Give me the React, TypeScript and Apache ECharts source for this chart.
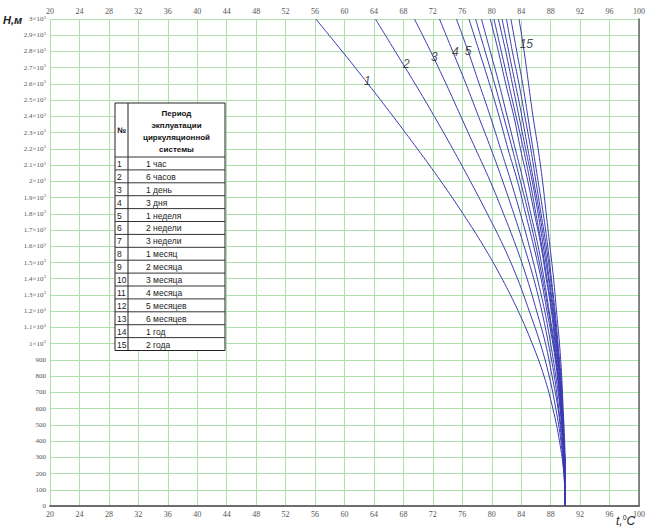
import React, { useEffect, useRef } from "react";
import * as echarts from "echarts";

// Depth levels (m) at which the temperatures are read
const H_LEVELS = [3000, 2800, 2600, 2400, 2200, 2000, 1800, 1600, 1400, 1200, 1000, 800, 600, 400, 200, 0];

// Temperature (°C) per curve at the depth levels above
const T01 = [56.1, 59.7, 63.2, 66.6, 69.9, 73.1, 76.1, 78.9, 81.4, 83.6, 85.5, 87.1, 88.3, 89.2, 89.8, 90.0];
const T02 = [64.2, 66.9, 69.6, 72.2, 74.7, 77.1, 79.4, 81.6, 83.5, 85.1, 86.6, 87.8, 88.7, 89.4, 89.8, 90.0];
const T03 = [69.5, 71.7, 73.8, 75.8, 77.8, 79.8, 81.6, 83.3, 84.8, 86.1, 87.3, 88.2, 89.0, 89.5, 89.9, 90.0];
const T04 = [72.9, 74.7, 76.5, 78.2, 79.9, 81.5, 83.0, 84.4, 85.7, 86.8, 87.7, 88.5, 89.1, 89.6, 89.9, 90.0];
const T05 = [75.2, 76.8, 78.3, 79.8, 81.2, 82.6, 83.9, 85.1, 86.2, 87.2, 88.0, 88.7, 89.3, 89.7, 89.9, 90.0];
const T06 = [76.9, 78.3, 79.7, 81.0, 82.2, 83.5, 84.6, 85.7, 86.7, 87.5, 88.3, 88.9, 89.3, 89.7, 89.9, 90.0];
const T07 = [77.8, 79.1, 80.4, 81.6, 82.8, 83.9, 85.0, 86.0, 86.9, 87.7, 88.4, 89.0, 89.4, 89.7, 89.9, 90.0];
const T08 = [78.6, 79.8, 81.0, 82.1, 83.2, 84.3, 85.3, 86.3, 87.1, 87.8, 88.5, 89.0, 89.4, 89.7, 89.9, 90.0];
const T09 = [79.8, 80.9, 81.9, 83.0, 83.9, 84.9, 85.8, 86.7, 87.4, 88.1, 88.6, 89.1, 89.5, 89.8, 89.9, 90.0];
const T10 = [80.3, 81.3, 82.3, 83.3, 84.3, 85.2, 86.0, 86.8, 87.5, 88.2, 88.7, 89.2, 89.5, 89.8, 89.9, 90.0];
const T11 = [80.9, 81.9, 82.8, 83.7, 84.6, 85.5, 86.3, 87.0, 87.7, 88.3, 88.8, 89.2, 89.5, 89.8, 89.9, 90.0];
const T12 = [81.4, 82.3, 83.2, 84.1, 84.9, 85.7, 86.5, 87.2, 87.8, 88.4, 88.9, 89.3, 89.6, 89.8, 89.9, 90.0];
const T13 = [82.0, 82.8, 83.7, 84.5, 85.3, 86.0, 86.7, 87.4, 88.0, 88.5, 88.9, 89.3, 89.6, 89.8, 90.0, 90.0];
const T14 = [82.6, 83.4, 84.2, 84.9, 85.6, 86.3, 87.0, 87.6, 88.1, 88.6, 89.0, 89.4, 89.6, 89.8, 90.0, 90.0];
const T15 = [83.7, 84.4, 85.0, 85.6, 86.3, 86.9, 87.4, 87.9, 88.4, 88.8, 89.2, 89.5, 89.7, 89.9, 90.0, 90.0];
const CURVES = [T01, T02, T03, T04, T05, T06, T07, T08, T09, T10, T11, T12, T13, T14, T15];

// Curve number labels (data coordinates)
const LABEL_TEXT = ["1", "2", "3", "4", "5", "15"];
const LABEL_T = [63.1, 68.4, 72.2, 75.05, 76.8, 84.7];
const LABEL_H = [2617, 2722, 2765, 2796, 2802, 2846];

// Legend table
const TABLE_NUM = ["1", "2", "3", "4", "5", "6", "7", "8", "9", "10", "11", "12", "13", "14", "15"];
const TABLE_PERIOD = [
  "1 час", "6 часов", "1 день", "3 дня", "1 неделя", "2 недели", "3 недели", "1 месяц",
  "2 месяца", "3 месяца", "4 месяца", "5 месяцев", "6 месяцев", "1 год", "2 года",
];
const TABLE_HEADER = ["Период", "экплуатации", "циркуляционной", "системы"];

const LINE_COLOR = "#3a3ab2";
const GRID_COLOR = "#aee0ae";
const AXIS_COLOR = "#666";
const LABEL_COLOR = "#555";
const SERIF = "'Liberation Serif', 'DejaVu Serif', serif";
const SANS = "'Liberation Sans', Arial, sans-serif";

function buildTable(): any[] {
  const x0 = 115, y0 = 103, w = 110, headH = 54, rowH = 12.9, colX = 128;
  const els: any[] = [];
  const totalH = headH + rowH * TABLE_NUM.length;
  els.push({ type: "rect", shape: { x: x0, y: y0, width: w, height: totalH }, style: { fill: "#fff", stroke: "#222", lineWidth: 1 }, z: 10 });
  els.push({ type: "line", shape: { x1: colX, y1: y0, x2: colX, y2: y0 + totalH }, style: { stroke: "#222", lineWidth: 1 }, z: 11 });
  for (let i = 0; i <= TABLE_NUM.length - 1; i++) {
    const y = y0 + headH + i * rowH;
    els.push({ type: "line", shape: { x1: x0, y1: y, x2: x0 + w, y2: y }, style: { stroke: "#333", lineWidth: 1 }, z: 11 });
  }
  els.push({ type: "text", x: (x0 + colX) / 2, y: y0 + headH / 2, style: { text: "№", font: `bold 8px ${SANS}`, fill: "#111", align: "center", verticalAlign: "middle" }, z: 12 });
  TABLE_HEADER.forEach((t, i) => {
    els.push({ type: "text", x: (colX + x0 + w) / 2, y: y0 + 10 + i * 12, style: { text: t, font: `bold 8px ${SANS}`, fill: "#111", align: "center", verticalAlign: "middle" }, z: 12 });
  });
  TABLE_NUM.forEach((n, i) => {
    const yc = y0 + headH + i * rowH + rowH / 2 + 0.5;
    els.push({ type: "text", x: x0 + 2, y: yc, style: { text: n, font: `8.5px ${SANS}`, fill: "#222", align: "left", verticalAlign: "middle" }, z: 12 });
    els.push({ type: "text", x: 146, y: yc, style: { text: TABLE_PERIOD[i], font: `8.5px ${SANS}`, fill: "#222", align: "left", verticalAlign: "middle" }, z: 12 });
  });
  return els;
}

export default function App() {
  const ref = useRef<HTMLDivElement>(null);
  useEffect(() => {
    if (!ref.current) return;
    const chart = echarts.init(ref.current, undefined, { renderer: "svg" });
    const xLabel = { fontSize: 8, fontFamily: SERIF, color: LABEL_COLOR };
    const option: any = {
      animation: false,
      backgroundColor: "#fff",
      grid: { left: 50, right: 8, top: 19, bottom: 24, containLabel: false },
      xAxis: [
        {
          type: "value", min: 20, max: 100, interval: 4, position: "bottom",
          axisLine: { show: true, lineStyle: { color: AXIS_COLOR, width: 1.5 } },
          axisTick: { show: false },
          axisLabel: { ...xLabel, margin: 4 },
          splitLine: { show: true, lineStyle: { color: GRID_COLOR, width: 1 } },
        },
        {
          type: "value", min: 20, max: 100, interval: 4, position: "top",
          axisLine: { show: true, lineStyle: { color: AXIS_COLOR, width: 1.5 } },
          axisTick: { show: false },
          axisLabel: { ...xLabel, margin: 4 },
          splitLine: { show: false },
        },
      ],
      yAxis: [
        {
          type: "value", min: 0, max: 3000, interval: 100, position: "left",
          axisLine: { show: false },
          axisTick: { show: false },
          axisLabel: {
            margin: 4,
            formatter: (v: number) =>
              v >= 1000 ? `{m|${+(v / 1000).toFixed(1)}×10}{s|3}` : `{m|${v}}`,
            rich: {
              m: { fontSize: 7, fontFamily: SERIF, color: LABEL_COLOR },
              s: { fontSize: 5, fontFamily: SERIF, color: LABEL_COLOR, verticalAlign: "top", padding: [0, 0, 4, 0] },
            },
          },
          splitLine: { show: true, lineStyle: { color: GRID_COLOR, width: 1 } },
        },
        {
          type: "value", min: 0, max: 3000, interval: 100, position: "right",
          axisLine: { show: true, lineStyle: { color: AXIS_COLOR, width: 1.5 } },
          axisTick: { show: false },
          axisLabel: { show: false },
          splitLine: { show: false },
        },
      ],
      series: [
        ...CURVES.map((t, i) => ({
          type: "line",
          name: String(i + 1),
          xAxisIndex: 0,
          yAxisIndex: 0,
          data: t.map((v, j) => [v, H_LEVELS[j]]),
          smooth: 0.4,
          symbol: "none",
          lineStyle: { color: LINE_COLOR, width: 1 },
          z: 3,
        })),
        {
          type: "scatter",
          xAxisIndex: 0,
          yAxisIndex: 0,
          symbolSize: 0,
          silent: true,
          data: LABEL_TEXT.map((s, i) => ({ value: [LABEL_T[i], LABEL_H[i]], name: s })),
          label: {
            show: true,
            position: "inside",
            formatter: (p: any) => p.name,
            fontSize: 12,
            fontStyle: "italic",
            fontFamily: SANS,
            color: "#222",
          },
          z: 5,
        },
      ],
      graphic: [
        {
          type: "text", left: 3, top: 14,
          style: { text: "H,м", font: `bold italic 11px ${SANS}`, fill: "#222" },
        },
        {
          type: "text", left: 616, top: 514,
          style: {
            text: "{i|t,}{s|0}{i|C}",
            rich: {
              i: { font: `italic 12px ${SANS}`, fill: "#222" },
              s: { font: `7px ${SANS}`, fill: "#222", verticalAlign: "top", padding: [0, 0, 7, 0] },
            },
          },
        },
        ...buildTable(),
      ],
    };
    chart.setOption(option);
    return () => chart.dispose();
  }, []);
  return <div ref={ref} style={{ position: "fixed", left: 0, top: 0, width: 648, height: 530 }} />;
}
